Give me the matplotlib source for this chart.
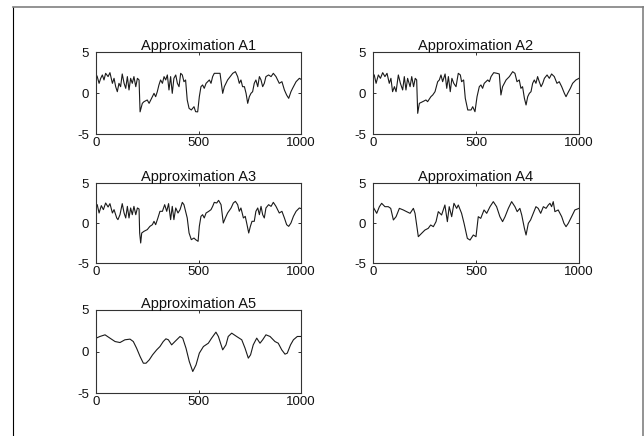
import numpy as np
import matplotlib
matplotlib.use("Agg")
import matplotlib.pyplot as plt
from matplotlib.lines import Line2D

plt.rcParams['font.family'] = ['Liberation Sans', 'DejaVu Sans']
plt.rcParams['axes.unicode_minus'] = False

# values, (sample index, amplitude)
a1 = np.array([
    (0, 2.3), (6, 2.0), (15, 1.18), (23, 1.79), (31, 2.2), (39, 1.59), (47, 2.4), (59, 2.0),
    (68, 2.48), (80, 1.18), (88, 1.79), (96, 0.77), (104, 0.16), (112, 1.18), (120, 0.77),
    (128, 2.32), (137, 1.18), (145, 0.57), (153, 2.0), (161, 0.37), (169, 1.79), (177, 1.18),
    (185, 2.0), (194, 0.77), (202, 1.79), (210, 1.59), (215, -2.3), (226, -1.26), (234, -1.06),
    (250, -0.85), (259, -1.26), (275, -0.45), (283, -0.04), (291, -0.45), (299, 0.16),
    (307, 0.98), (315, 1.59), (324, 1.18), (332, 2.0), (340, 1.59), (348, 2.2), (356, 0.37),
    (364, 2.0), (372, -0.04), (380, 1.79), (389, 2.2), (397, 1.18), (405, 0.77), (413, 2.4),
    (421, 2.2), (429, 1.38), (437, 1.59), (445, -0.85), (454, -1.87), (465, -2.07),
    (478, -1.67), (486, -2.28), (496, -2.3), (504, -0.45), (512, 0.77), (520, 0.98),
    (528, 0.57), (537, 1.18), (553, 1.59), (561, 1.18), (569, 2.0), (577, 2.4), (594, 2.4),
    (605, 2.4), (618, -0.04), (626, 0.77), (642, 1.59), (667, 2.4), (680, 2.6), (691, 2.0),
    (699, 1.18), (707, 1.59), (715, 0.77), (724, 0.77), (732, -0.04), (740, -1.26),
    (748, -0.45), (756, -0.04), (764, 0.16), (772, 1.18), (780, 1.59), (789, 0.77), (797, 2.0),
    (805, 1.59), (813, 0.77), (821, 1.18), (829, 2.0), (842, 2.2), (854, 2.0), (865, 2.4),
    (878, 2.0), (894, 1.18), (907, 1.38), (919, 0.37), (930, -0.25), (940, -0.65), (951, 0.16),
    (959, 0.57), (976, 1.38), (992, 1.79), (1000, 1.67),
])

a2 = np.array([
    (0, 2.3), (6, 2.2), (15, 1.18), (26, 2.2), (36, 1.79), (47, 2.48), (58, 2.0), (68, 2.4),
    (79, 1.18), (87, 1.79), (95, 0.16), (104, 0.77), (112, 0.16), (123, 2.2), (133, 1.18),
    (144, 0.37), (152, 2.0), (160, 0.37), (168, 1.79), (180, 0.77), (188, 2.0), (197, 0.77),
    (205, 1.79), (212, 1.59), (217, -2.48), (225, -1.26), (241, -1.06), (257, -0.85),
    (265, -1.06), (281, -0.45), (290, -0.24), (301, 0.16), (314, 1.38), (322, 1.59), (330, 2.2),
    (338, 1.38), (350, 2.32), (358, 0.57), (366, 2.0), (375, 0.16), (383, 1.79), (392, 1.18),
    (403, 0.77), (414, 2.4), (424, 2.2), (430, 1.38), (440, 1.59), (448, -0.65), (460, -2.07),
    (476, -2.07), (484, -1.67), (495, -2.28), (505, -0.45), (516, 0.77), (524, 0.98),
    (532, 0.57), (540, 1.18), (557, 1.59), (565, 1.38), (573, 2.0), (586, 2.48), (602, 2.4),
    (613, 2.32), (621, -0.24), (629, 0.77), (646, 1.59), (662, 2.0), (678, 2.6), (689, 2.4),
    (699, 1.38), (710, 1.59), (718, 0.57), (726, 0.77), (735, -0.65), (743, -1.46),
    (751, -0.45), (759, -0.04), (767, 0.16), (775, 1.18), (783, 1.59), (791, 1.18), (799, 2.0),
    (807, 1.38), (816, 0.77), (824, 1.18), (832, 1.79), (845, 2.2), (856, 1.79), (867, 2.32),
    (880, 2.0), (893, 1.18), (904, 1.38), (916, 0.77), (929, -0.04), (937, -0.45), (945, -0.04),
    (958, 0.57), (969, 1.18), (985, 1.59), (1000, 1.79),
])

a3 = np.array([
    (0, 2.3), (6, 2.29), (15, 1.25), (26, 2.17), (36, 1.67), (47, 2.5), (59, 2.0), (68, 2.42),
    (80, 1.25), (88, 1.67), (101, 0.63), (107, 0.42), (117, 1.04), (128, 2.42), (137, 1.25),
    (145, 0.63), (153, 2.08), (161, 0.63), (169, 1.88), (177, 1.04), (185, 2.08), (194, 1.04),
    (202, 1.88), (210, 1.75), (213, -1.25), (218, -2.5), (223, -1.25), (234, -1.04),
    (250, -0.83), (263, -0.42), (275, -0.21), (283, 0.21), (291, -0.21), (302, 0.63),
    (312, 1.46), (324, 1.46), (335, 2.29), (345, 1.46), (354, 2.42), (364, 0.42), (372, 2.08),
    (380, 0.42), (389, 1.88), (400, 1.25), (410, 1.67), (421, 2.58), (429, 2.29), (437, 1.46),
    (445, 0.63), (454, -1.25), (465, -2.08), (478, -1.88), (486, -2.08), (498, -2.29),
    (504, -0.42), (512, 0.83), (520, 1.04), (528, 0.63), (537, 1.25), (550, 1.46), (561, 1.67),
    (569, 2.08), (577, 2.58), (589, 2.5), (598, 2.83), (610, 2.29), (621, 0.0), (631, 0.63),
    (642, 1.25), (659, 1.88), (670, 2.5), (680, 2.71), (691, 2.29), (699, 1.46), (707, 1.88),
    (719, 0.63), (728, 0.83), (735, 0.0), (745, -1.25), (753, -0.42), (761, 0.21), (772, 0.21),
    (780, 1.46), (789, 1.88), (797, 1.04), (805, 2.08), (813, 1.04), (821, 0.63), (829, 1.88),
    (842, 2.29), (854, 2.08), (865, 2.58), (878, 2.08), (894, 1.25), (907, 1.46), (919, 0.63),
    (930, -0.21), (940, -0.42), (951, 0.0), (963, 0.83), (976, 1.46), (992, 1.88), (1000, 1.8),
])

a4 = np.array([
    (0, 2.04), (18, 1.21), (31, 2.04), (42, 2.46), (58, 2.04), (74, 2.04), (86, 1.83),
    (99, 0.38), (112, 0.79), (128, 1.83), (147, 1.63), (163, 1.42), (180, 1.21), (196, 1.83),
    (204, 1.21), (220, -1.71), (236, -1.29), (252, -0.88), (268, -0.67), (280, -0.25),
    (293, -0.46), (306, 0.17), (317, 1.42), (333, 1.0), (349, 2.25), (361, 0.17), (370, 2.04),
    (382, 0.79), (393, 2.46), (406, 1.83), (414, 2.25), (430, 1.21), (442, -0.04),
    (458, -1.92), (471, -2.13), (487, -1.5), (500, -1.71), (511, 0.79), (523, 0.58),
    (539, 1.63), (552, 1.21), (568, 2.04), (584, 2.67), (600, 2.04), (616, 0.79), (629, 0.17),
    (641, 0.79), (657, 1.83), (673, 2.67), (689, 2.04), (700, 1.42), (713, 1.83), (722, 1.0),
    (735, -0.67), (743, -1.5), (754, -0.04), (765, 0.38), (778, 1.21), (791, 2.04),
    (802, 1.83), (814, 1.21), (827, 2.04), (840, 1.83), (851, 2.25), (859, 2.46), (867, 2.04),
    (875, 2.67), (883, 1.42), (899, 1.63), (916, 0.79), (927, -0.04), (937, -0.46),
    (948, -0.04), (964, 0.79), (980, 1.63), (1000, 1.83),
])

a5 = np.array([
    (0, 1.6), (19, 1.81), (44, 2.01), (68, 1.61), (93, 1.2), (117, 1.08), (141, 1.41),
    (166, 1.49), (182, 1.2), (198, 0.4), (215, -0.6), (231, -1.41), (244, -1.41), (260, -1.0),
    (276, -0.4), (296, 0.2), (312, 0.6), (328, 1.2), (341, 1.53), (353, 1.41), (369, 0.8),
    (385, 1.2), (410, 1.81), (423, 1.61), (439, 0.4), (455, -1.2), (472, -2.41), (488, -1.61),
    (504, -0.2), (524, 0.6), (548, 1.0), (564, 1.61), (585, 2.33), (597, 1.81), (618, 0.2),
    (634, 0.8), (645, 1.81), (662, 2.21), (686, 1.81), (711, 1.41), (727, 0.4), (743, -0.8),
    (754, -0.4), (767, 0.8), (784, 1.61), (800, 1.0), (813, 1.41), (829, 2.01), (849, 1.81),
    (873, 1.2), (889, 1.0), (906, 0.2), (922, -0.32), (933, -0.2), (949, 0.8), (963, 1.41),
    (982, 1.81), (1000, 1.81),
])

series = [a1, a2, a3, a4, a5]
titles = ["Approximation A1", "Approximation A2", "Approximation A3",
          "Approximation A4", "Approximation A5"]
x_ticks = [0, 500, 1000]
y_ticks = [-5, 0, 5]

W, H = 644, 436
fig = plt.figure(figsize=(W / 100, H / 100), dpi=100)

# axes boxes in pixels: left, top, right, bottom
boxes = [
    (96, 52, 301, 134), (373, 52, 579, 134),
    (96, 183, 301, 263), (373, 183, 579, 263),
    (96, 310, 301, 393),
]

for data, title, (l, t, r, b) in zip(series, titles, boxes):
    ax = fig.add_axes([l / W, 1 - b / H, (r - l) / W, (b - t) / H])
    ax.plot(data[:, 0], data[:, 1], color="#1a1a1a", lw=0.8)
    ax.set_xlim(0, 1000)
    ax.set_ylim(-5, 5)
    ax.set_xticks(x_ticks)
    ax.set_yticks(y_ticks)
    ax.tick_params(direction="in", top=True, right=True, length=2.5, width=0.6,
                   labelsize=9.5, colors="#111111")
    ax.tick_params(axis="x", pad=2)
    ax.tick_params(axis="y", pad=5)
    for s in ax.spines.values():
        s.set_linewidth(0.8)
        s.set_color("#333333")
    ax.set_title(title, fontsize=10.5, pad=1.5, color="#111111")

# window frame around the figure
fig.add_artist(Line2D([13 / W, 13 / W], [0, 1 - 7 / H], color="black", lw=0.8))
fig.add_artist(Line2D([13 / W, 1], [1 - 7 / H, 1 - 7 / H], color="#808080", lw=1.2))
fig.add_artist(Line2D([642.5 / W, 642.5 / W], [0, 1 - 7 / H], color="#808080", lw=1.2))

fig.savefig("out.png", dpi=100, facecolor="white")
